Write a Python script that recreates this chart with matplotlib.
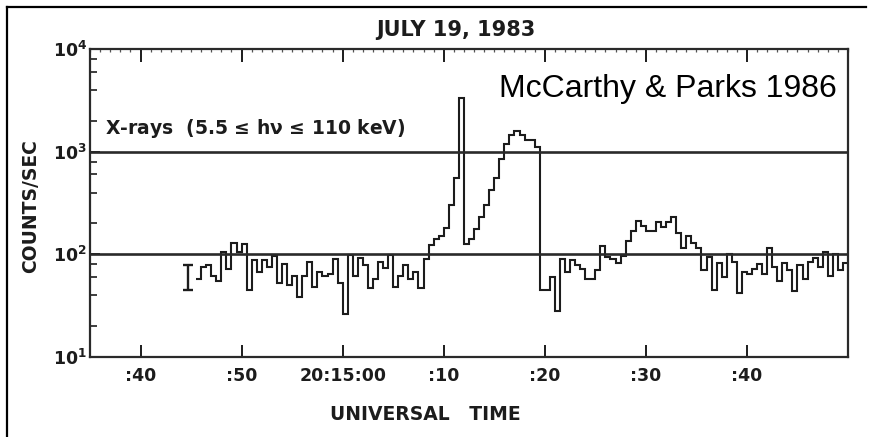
import matplotlib
matplotlib.use('Agg')
import matplotlib.pyplot as plt
import numpy as np
from matplotlib.lines import Line2D
from matplotlib.ticker import LogLocator, NullFormatter, MultipleLocator

# X-ray count rate, 0.5 s bins, seconds after 20:15:00 UT
bin_start = -14.5
bin_width = 0.5
counts = [
    58, 75, 78, 62, 55, 105, 72, 130, 105, 125, 45, 88, 68, 88, 76, 96, 52, 80, 50, 62, 38, 62,
    84, 48, 67, 62, 65, 90, 52, 26, 98, 62, 93, 78, 47, 58, 84, 73, 98, 48, 62, 78, 58, 67, 47,
    90, 122, 140, 150, 180, 300, 550, 3300, 125, 140,
    175, 230, 300, 420, 560, 850, 1200, 1450, 1600, 1450,
    1300, 1300, 1100, 45, 45, 60, 28, 90, 68, 88,
    78, 72, 58, 58, 70, 120, 95, 90, 82, 96,
    135, 170, 210, 190, 170, 168, 205, 185, 205, 230,
    160, 115, 150, 128, 115, 70, 95, 45, 82,
    60, 100, 85, 42, 68, 65, 72, 80, 65, 115, 75, 55, 82, 70, 44, 78, 58, 85, 93, 75,
    105, 62, 100, 70, 82,
]

tick_secs = [-20, -10, 0, 10, 20, 30, 40]
tick_labels = [':40', ':50', '20:15:00', ':10', ':20', ':30', ':40']
ref_levels = [1e2, 1e3]

# typical error bar
err_t = -15.3
err_mid = 60
err_lo = 45
err_hi = 78

ink = '#1c1c1c'
W, H = 875, 437

fig = plt.figure(figsize=(8.75, 4.37), dpi=100)
ax = fig.add_axes([90 / W, 1 - 357 / H, (848 - 90) / W, (357 - 49) / H])

edges = bin_start + bin_width * np.arange(len(counts) + 1)
ax.stairs(counts, edges, baseline=None, color=ink, lw=1.5)
for lv in ref_levels:
    ax.axhline(lv, color='#2a2a2a', lw=1.9)
ax.errorbar([err_t], [err_mid], yerr=[[err_mid - err_lo], [err_hi - err_mid]],
            fmt='none', ecolor=ink, elinewidth=1.7, capsize=3.6, capthick=1.7)

ax.set_yscale('log')
ax.set_ylim(10, 1e4)
ax.set_xlim(-25, 50)
ax.yaxis.set_minor_locator(LogLocator(base=10, subs=[2, 4, 6, 8]))
ax.yaxis.set_minor_formatter(NullFormatter())
ax.set_xticks(tick_secs, tick_labels)
ax.xaxis.set_minor_locator(MultipleLocator(1))

ax.tick_params(axis='x', which='major', direction='in', length=9, width=1.4,
               top=True, labelsize=12.5, pad=7, colors=ink)
ax.tick_params(axis='x', which='minor', direction='in', length=2.5, width=0.9,
               top=True, bottom=False, colors='#555555')
ax.tick_params(axis='y', which='major', direction='in', length=7, width=1.4,
               labelsize=12.5, pad=2, colors=ink)
ax.tick_params(axis='y', which='minor', direction='in', length=5, width=1.2, colors=ink)
for lab in ax.get_xticklabels() + ax.get_yticklabels():
    lab.set_fontweight('bold')
for s in ax.spines.values():
    s.set_linewidth(1.6)
    s.set_color('#2a2a2a')

fig.text(456 / W, 1 - 30 / H, 'JULY 19, 1983', fontsize=15, fontweight='bold',
         ha='center', va='center', color=ink)
fig.text(105 / W, 1 - 128 / H, 'X-rays  (5.5 \u2264 $\\mathbf{h\\nu}$ \u2264 110 keV)', fontsize=13.5,
         fontweight='bold', ha='left', va='center', color=ink)
fig.text(499 / W, 1 - 97 / H, 'McCarthy & Parks 1986', fontsize=23, family='Liberation Sans',
         ha='left', va='baseline', color='black')
fig.text(31 / W, 1 - 206 / H, 'COUNTS/SEC', fontsize=13.5, fontweight='bold', rotation=90,
         ha='center', va='center', color=ink)
fig.text(425 / W, 1 - 415 / H, 'UNIVERSAL   TIME', fontsize=13.5, fontweight='bold',
         ha='center', va='center', color=ink)

# screenshot frame (top and left edges)
fig.add_artist(Line2D([7 / W, 866 / W], [1 - 7 / H, 1 - 7 / H], color='black', lw=1.6,
                      transform=fig.transFigure))
fig.add_artist(Line2D([7 / W, 7 / W], [0, 1 - 7 / H], color='black', lw=1.6,
                      transform=fig.transFigure))

fig.savefig('out.png', dpi=100)
